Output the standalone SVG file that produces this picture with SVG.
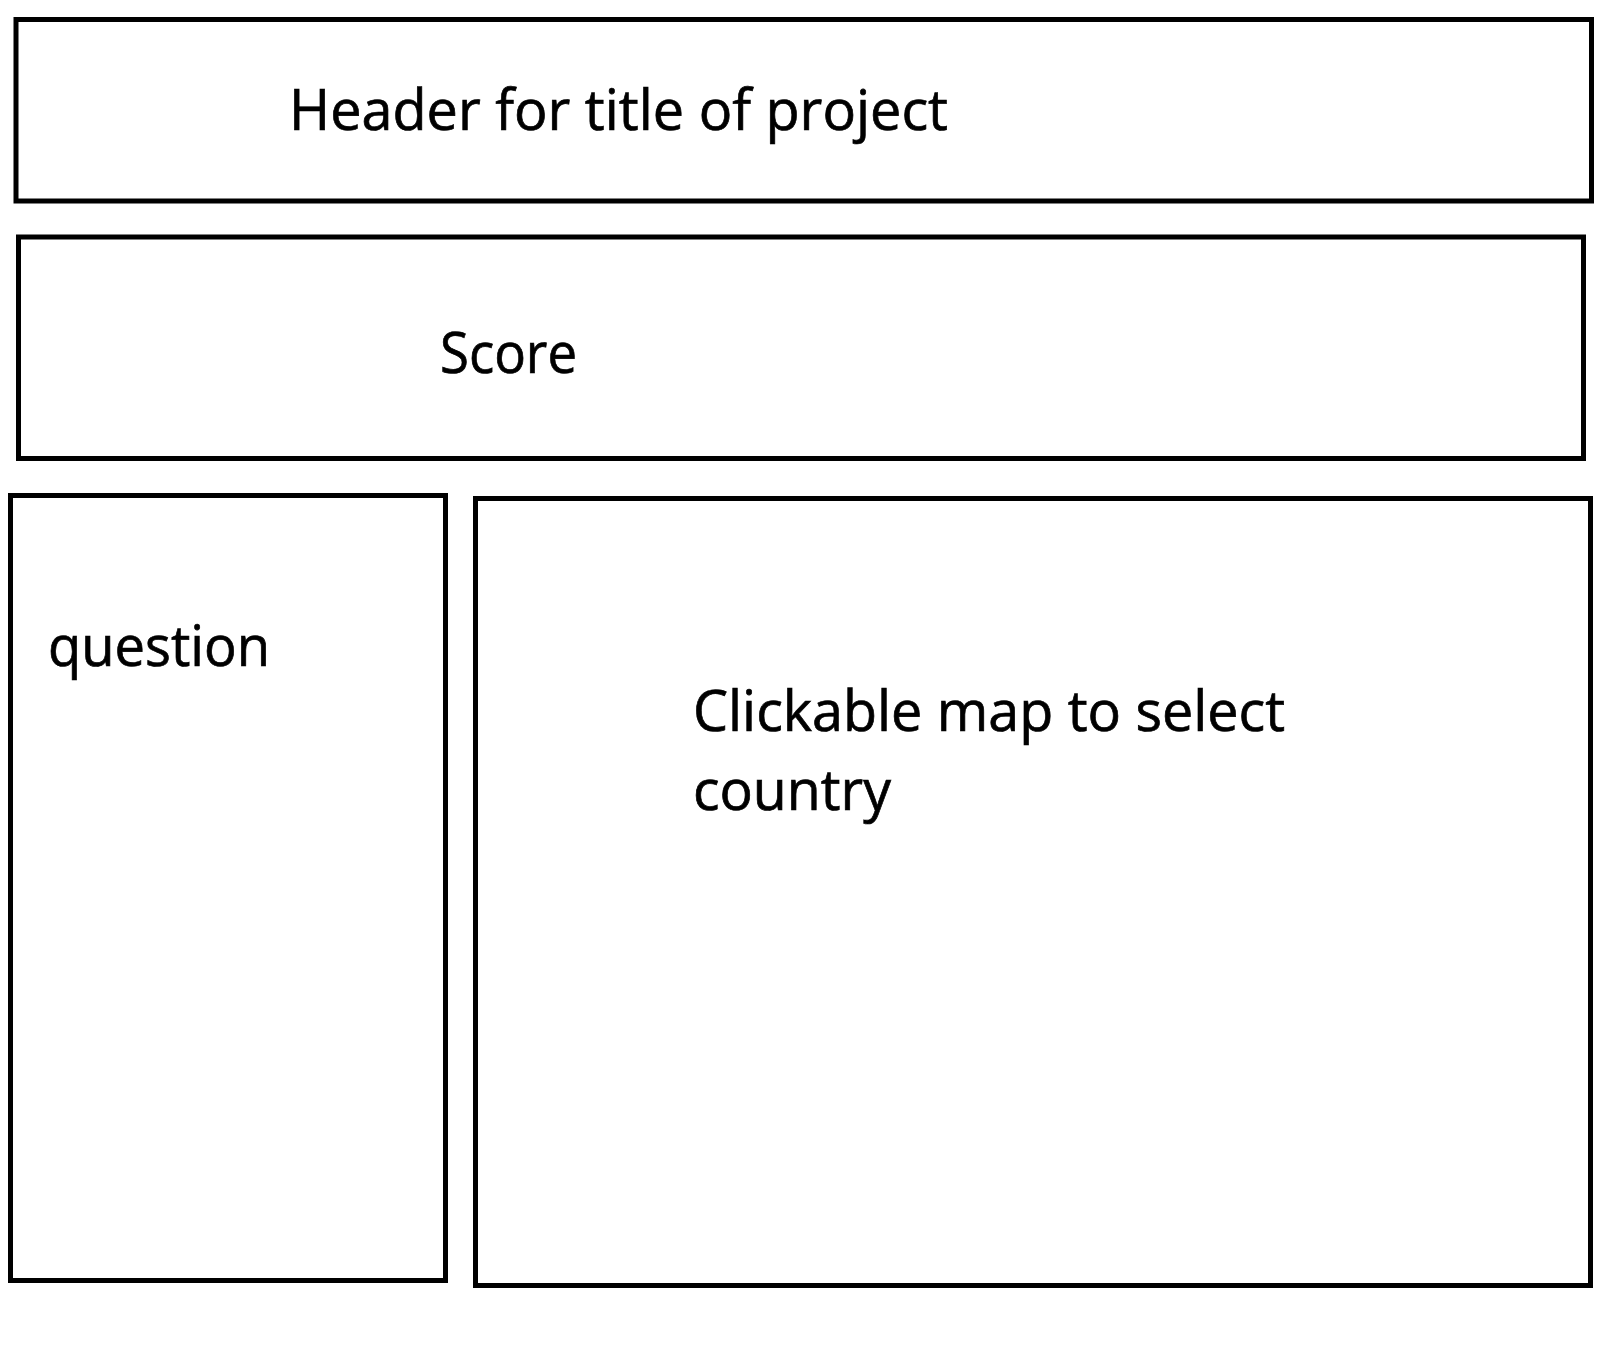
<svg xmlns="http://www.w3.org/2000/svg" width="1624" height="1363" viewBox="0 0 1624 1363">
  <style>
    .box { fill: #ffffff; stroke: #000000; stroke-width: 5; }
    .lbl { font-family: "Open Sans", "Noto Sans", "Liberation Sans", sans-serif; font-size: 57px; fill: #000000; stroke: #000000; stroke-width: 0.7; }
  </style>
  <rect x="0" y="0" width="1624" height="1363" fill="#ffffff"/>
  <g id="header">
    <rect class="box" x="16" y="19.5" width="1575.5" height="181.5"/>
    <text class="lbl" x="289" y="130" textLength="659" lengthAdjust="spacingAndGlyphs">Header for title of project</text>
  </g>
  <g id="score">
    <rect class="box" x="18.5" y="237" width="1565" height="221.5"/>
    <text class="lbl" x="440" y="373" textLength="137" lengthAdjust="spacingAndGlyphs">Score</text>
  </g>
  <g id="question">
    <rect class="box" x="10.5" y="495.5" width="435" height="785"/>
    <text class="lbl" x="48" y="666" textLength="222" lengthAdjust="spacingAndGlyphs">question</text>
  </g>
  <g id="map">
    <rect class="box" x="475.5" y="498.5" width="1115" height="787"/>
    <text class="lbl" x="693" y="731" textLength="592" lengthAdjust="spacingAndGlyphs">Clickable map to select</text>
    <text class="lbl" x="693" y="810" textLength="198" lengthAdjust="spacingAndGlyphs">country</text>
  </g>
  <g id="connectors"/>
</svg>
